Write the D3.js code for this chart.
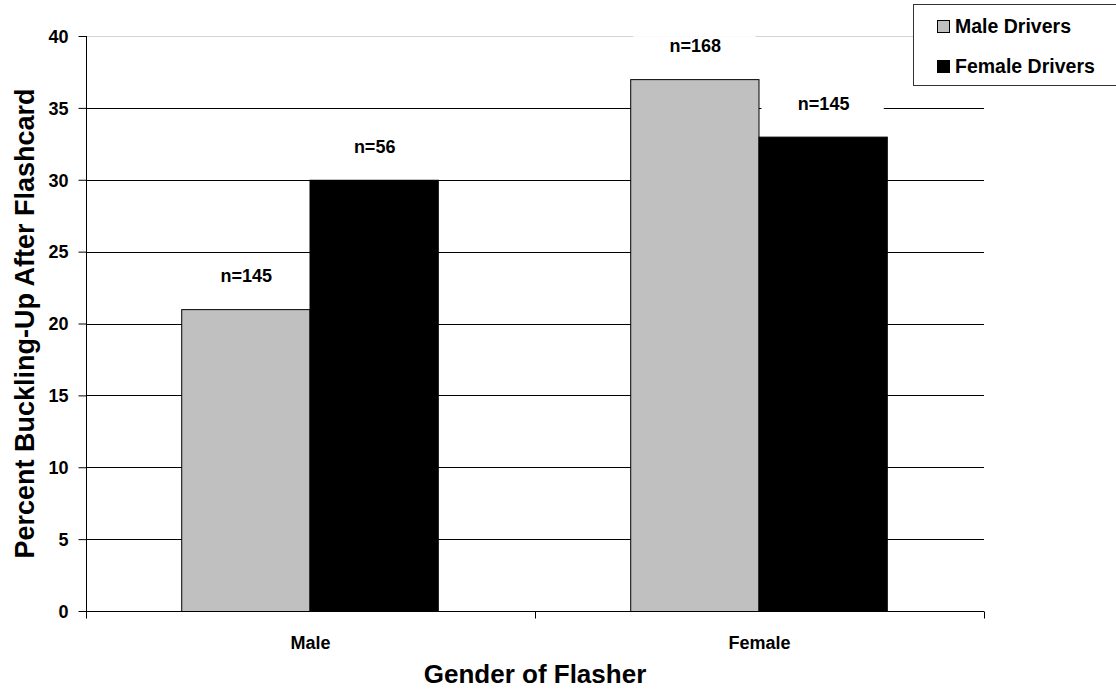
<!DOCTYPE html>
<html>
<head>
<meta charset="utf-8">
<script src="https://cdn.jsdelivr.net/npm/d3@7"></script>
<style>
  html, body { margin: 0; padding: 0; background: #fff; }
  svg { display: block; }
  text { font-family: "Liberation Sans", Arial, sans-serif; font-weight: bold; fill: #000; }
</style>
</head>
<body>
<svg id="chart" width="1116" height="692"></svg>
<script>
// Flasher gender groups and the two driver series
const categories = ["Male", "Female"];
const seriesNames = ["Male Drivers", "Female Drivers"];
const maleDrivers = [21, 37];
const femaleDrivers = [30, 33];
const maleDriversN = ["n=145", "n=168"];
const femaleDriversN = ["n=56", "n=145"];
const yTicks = [0, 5, 10, 15, 20, 25, 30, 35, 40];
const seriesColors = ["#c0c0c0", "#000000"];

const svg = d3.select("#chart");
const margin = { left: 86, right: 132, top: 36, bottom: 81 };
const W = 1116, H = 692;
const plotL = margin.left, plotR = W - margin.right;
const plotT = margin.top, plotB = H - margin.bottom;

const x = d3.scaleBand().domain(categories).range([plotL, plotR]).paddingInner(0).paddingOuter(0);
const xs = d3.scaleBand().domain(seriesNames).range([0, x.bandwidth()]).paddingInner(0).paddingOuter(0.75);
const y = d3.scaleLinear().domain([0, 40]).range([plotB, plotT]);

const rows = categories.map((c, i) => ({
  cat: c,
  vals: [
    { s: seriesNames[0], v: maleDrivers[i], n: maleDriversN[i], color: seriesColors[0] },
    { s: seriesNames[1], v: femaleDrivers[i], n: femaleDriversN[i], color: seriesColors[1] }
  ]
}));

// horizontal gridlines
svg.append("g").selectAll("line").data(yTicks.filter(t => t > 0)).join("line")
  .attr("x1", plotL).attr("x2", plotR)
  .attr("y1", d => Math.round(y(d)) + 0.5).attr("y2", d => Math.round(y(d)) + 0.5)
  .attr("stroke", d => d === 40 ? "#d4d4d4" : "#000").attr("stroke-width", 1);

// y axis
const yAxis = svg.append("g").attr("transform", `translate(${plotL + 0.5},0)`)
  .call(d3.axisLeft(y).tickValues(yTicks).tickSize(8).tickPadding(10));
yAxis.select(".domain").attr("d", `M0,${plotT}V${plotB + 7}`).attr("stroke", "#000");
yAxis.selectAll(".tick line").attr("stroke", "#000");
yAxis.selectAll(".tick text").attr("font-size", 18).attr("dy", "0.35em")
  .style("font-family", '"Liberation Sans", Arial, sans-serif').style("font-weight", "bold");
yAxis.attr("font-size", null).attr("font-family", null);

// bars
const groups = svg.append("g").selectAll("g").data(rows).join("g")
  .attr("transform", d => `translate(${x(d.cat)},0)`);
groups.selectAll("rect").data(d => d.vals).join("rect")
  .attr("x", d => xs(d.s) - 0.5)
  .attr("y", d => y(d.v) + 0.5)
  .attr("width", xs.bandwidth())
  .attr("height", d => y(0) - y(d.v))
  .attr("fill", d => d.color)
  .attr("stroke", "#000").attr("stroke-width", 1);

// value labels with white backing
const lab = groups.selectAll("g.lab").data(d => d.vals).join("g").attr("class", "lab");
lab.append("rect")
  .attr("x", d => xs(d.s) + 2)
  .attr("y", d => y(d.v) - 43)
  .attr("width", xs.bandwidth() - 6)
  .attr("height", 22)
  .attr("fill", "#fff");
lab.append("text")
  .attr("x", d => xs(d.s) + xs.bandwidth() / 2)
  .attr("y", d => y(d.v) - 27)
  .attr("text-anchor", "middle")
  .attr("font-size", 18)
  .text(d => d.n);

// x axis
const xAxisG = svg.append("g").attr("transform", `translate(0,${Math.round(plotB) + 0.5})`);
xAxisG.append("line").attr("x1", plotL).attr("x2", plotR).attr("stroke", "#000");
xAxisG.selectAll("line.tk").data([plotL, x(categories[1]), plotR]).join("line").attr("class", "tk")
  .attr("x1", d => d + 0.5).attr("x2", d => d + 0.5).attr("y1", 0).attr("y2", 7).attr("stroke", "#000");
xAxisG.selectAll("text").data(categories).join("text")
  .attr("x", d => x(d) + x.bandwidth() / 2)
  .attr("y", 37)
  .attr("text-anchor", "middle")
  .attr("font-size", 18)
  .text(d => d);

// axis titles
svg.append("text").attr("x", (plotL + plotR) / 2).attr("y", 683)
  .attr("text-anchor", "middle").attr("font-size", 26).text("Gender of Flasher");
svg.append("text").attr("transform", `translate(34,${(plotT + plotB) / 2}) rotate(-90)`)
  .attr("text-anchor", "middle").attr("font-size", 27).text("Percent Buckling-Up After Flashcard");

// legend
const leg = svg.append("g");
leg.append("rect").attr("x", 913.5).attr("y", 4.5).attr("width", 220).attr("height", 81)
  .attr("fill", "#fff").attr("stroke", "#333").attr("stroke-width", 1);
const items = leg.selectAll("g").data(seriesNames).join("g")
  .attr("transform", (d, i) => `translate(937,${20 + i * 40})`);
items.append("rect").attr("x", 0.5).attr("y", 0.5).attr("width", 12).attr("height", 12)
  .attr("fill", (d, i) => seriesColors[i]).attr("stroke", "#000");
items.append("text").attr("x", 18).attr("y", 13).attr("font-size", 19.5).text(d => d);
</script>
</body>
</html>
